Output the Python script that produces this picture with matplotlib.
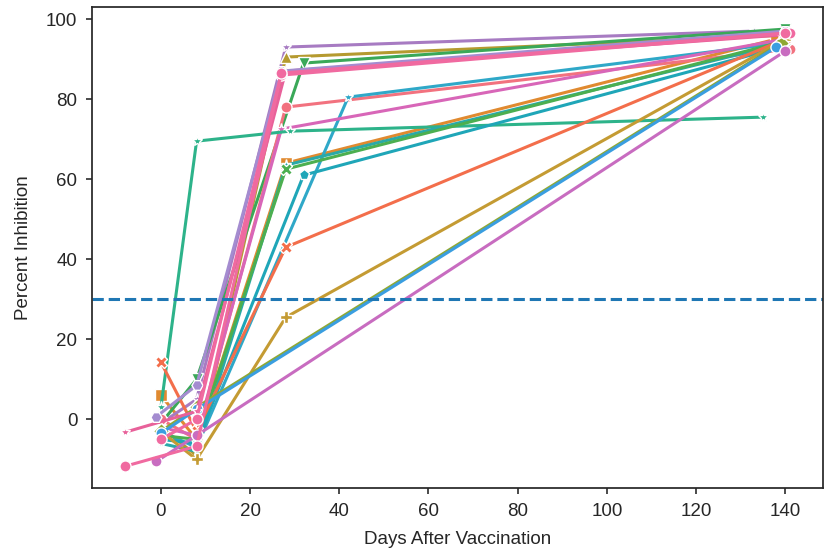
import matplotlib
matplotlib.use("Agg")
import matplotlib.pyplot as plt
import seaborn as sns

# one entry per subject: sampling days and percent inhibition
days = [
	[0, 8, 28, 138],
	[0, 8, 28, 133],
	[0, 8, 28, 140],
	[0, 8, 32, 140],
	[0, 8, 28, 141],
	[0, 8, 42, 139],
	[0, 8, 27, 140],
	[0, 8, 29, 135],
	[0, 8, 28, 140],
	[0, 8, 28, 140],
	[0, 8, 32, 139],
	[0, 8, 28, 140],
	[0, 8, 28, 140],
	[0, 8, 139],
	[0, 8, 138],
	[-1, 8, 140],
	[-8, 8, 28, 139],
	[-1, 8, 27, 140],
	[-8, 8, 27, 141],
	[0, 8, 27, 140],
]
inhibition = [
	[6, -5, 64, 95],
	[-1, 5, 93, 97],
	[-2, -9, 90.5, 96],
	[-1, 10, 89, 97.5],
	[0, -5, 78, 92.5],
	[-3, -7, 80.5, 94],
	[-2, -4, 72.5, 95],
	[3, 69.5, 72, 75.5],
	[-6, -8, 63.5, 94],
	[-4, -5, 62.5, 94.5],
	[-5, -6, 61, 93],
	[14.3, -3, 43, 95],
	[-3, -10, 25.5, 95],
	[-3, 3, 94],
	[-3.5, 2.5, 93],
	[-10.5, -4, 92],
	[-3.2, 2, 87, 96],
	[0.7, 8.5, 87, 97],
	[-11.7, -6.7, 86, 96.5],
	[-5, 0, 86.5, 96.5],
]

colors = [
	"#e08a30", "#a77bc2", "#b59a30", "#3aa858", "#f2727f",
	"#2fa8c8", "#d866b8", "#2db38a", "#2aa9a8", "#4caf50",
	"#1fa6b8", "#f36e4b", "#c49b33", "#8fa834", "#3a9ee0",
	"#c86cc0", "#e8619a", "#a48cd0", "#f06aa0", "#f06aa0",
]
markers = ["s", "*", "^", "v", "o", "*", "*", "*", "*", "X",
	"p", "X", "P", "D", "o", "o", "*", "H", "o", "o"]

threshold = 30

sns.set_theme(style="ticks")
plt.rcParams["font.family"] = ["Liberation Sans", "DejaVu Sans"]

fig = plt.figure(figsize=(8.25, 5.54), dpi=100)
ax = fig.add_axes([0.1115, 0.119, 0.886, 0.868])

for i in range(len(days)):
	ax.plot(days[i], inhibition[i], color=colors[i], lw=2.2, marker=markers[i],
		ms=8, mec="white", mew=1)

ax.axhline(threshold, color="#1f77b4", ls="--", lw=2.2)

ax.set_xlabel("Days After Vaccination", fontsize=13.5, labelpad=8)
ax.set_ylabel("Percent Inhibition", fontsize=13.5, labelpad=10)
ax.tick_params(labelsize=13.5, length=4.5, pad=6, colors="#333333", labelcolor="#262626")
for s in ax.spines.values():
	s.set_color("#262626")

fig.savefig("out.png", dpi=100)
